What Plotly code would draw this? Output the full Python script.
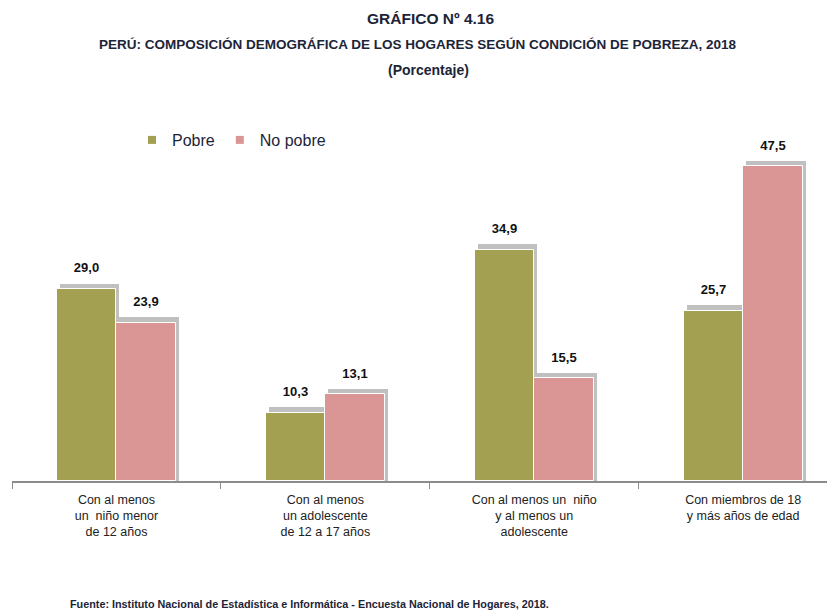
import plotly.graph_objects as go

categories = [
    "Con al menos<br>un  niño menor<br>de 12 años",
    "Con al menos<br>un adolescente<br>de 12 a 17 años",
    "Con al menos un  niño<br>y al menos un<br>adolescente",
    "Con miembros de 18<br>y más años de edad",
]
pobre = [29.0, 10.3, 34.9, 25.7]
no_pobre = [23.9, 13.1, 15.5, 47.5]

series_names = ["Pobre", "No pobre"]
colors = ["#a3a052", "#d99694"]
FONT = "Liberation Sans, Arial, sans-serif"
TXT = "#1c2438"

def fmt(v):
    return f"<b>{v:.1f}</b>".replace(".", ",")

# The page has an 8px body margin: build the figure in reference pixels minus 8.
OFF = 8
FIG_W, FIG_H = 835 - OFF, 616 - OFF
# plot area in reference pixels
PL, PR, PT, PB = 12, 835, 100, 481
PW, PH = PR - PL, PB - PT

def px(x):
    return (x - PL) / PW

def py(y):
    return (PB - y) / PH

UNIT = 208.9  # pixels per category
XMAX = -0.5 + PW / UNIT

fig = go.Figure()
W = 0.285
shadow_up = 0.8
label_up = 1.6
offsets = [-W, 0.0]
for vals, off in zip([pobre, no_pobre], offsets):
    fig.add_trace(go.Bar(
        x=categories, y=[v + shadow_up for v in vals], width=W, offset=off + 0.014,
        marker=dict(color="rgba(140,140,140,0.55)", line=dict(width=0)),
        showlegend=False, hoverinfo="skip",
    ))
for vals, name, col, off in zip([pobre, no_pobre], series_names, colors, offsets):
    fig.add_trace(go.Bar(
        x=categories, y=vals, width=W, offset=off, name=name,
        marker=dict(color=col, line=dict(color="white", width=1)),
        showlegend=False,
    ))
for vals, off in zip([pobre, no_pobre], offsets):
    fig.add_trace(go.Bar(
        x=categories, y=[v + label_up for v in vals], width=W, offset=off,
        marker=dict(color="rgba(0,0,0,0)", line=dict(width=0)),
        text=[fmt(v) for v in vals], textposition="outside",
        textfont=dict(family=FONT, size=13, color="#111111"),
        showlegend=False, hoverinfo="skip", cliponaxis=False,
    ))
# legend entries with small square markers
for name, col in zip(series_names, colors):
    fig.add_trace(go.Scatter(
        x=[None], y=[None], mode="markers", name=name,
        marker=dict(symbol="square", size=8, color=col),
    ))

fig.update_layout(
    width=FIG_W, height=FIG_H,
    barmode="overlay",
    plot_bgcolor="white", paper_bgcolor="white",
    margin=dict(l=PL - OFF, r=0, t=PT - OFF, b=FIG_H - (PB - OFF), autoexpand=False),
    legend=dict(
        orientation="h", x=px(132), y=py(140), xanchor="left", yanchor="middle",
        font=dict(family=FONT, size=16, color=TXT),
        itemwidth=30, traceorder="normal", bgcolor="rgba(0,0,0,0)",
    ),
    xaxis=dict(
        range=[-0.5, XMAX], showline=True, linecolor="#8c8c8c", linewidth=1.5,
        ticks="outside", tickson="boundaries", ticklen=6, tickcolor="#8c8c8c",
        tickfont=dict(family=FONT, size=12.5, color="#222222"),
        ticklabelstandoff=6,
        showgrid=False, fixedrange=True, automargin=False,
    ),
    yaxis=dict(range=[0, 57.5], visible=False, showgrid=False, automargin=False),
    bargap=0,
)

title_lines = [
    ("GRÁFICO Nº 4.16", 430, 18, 15.5),
    ("PERÚ: COMPOSICIÓN DEMOGRÁFICA DE LOS HOGARES SEGÚN CONDICIÓN DE POBREZA, 2018", 418, 45, 13.5),
    ("(Porcentaje)", 429, 70, 14),
]
for txt, cx, cy, sz in title_lines:
    fig.add_annotation(
        text=f"<b>{txt}</b>", xref="paper", yref="paper",
        x=px(cx), y=py(cy), xanchor="center", yanchor="middle",
        showarrow=False, font=dict(family=FONT, size=sz, color=TXT),
    )

fig.add_annotation(
    text="<b>Fuente: Instituto Nacional de Estadística e Informática - Encuesta Nacional de Hogares, 2018.</b>",
    xref="paper", yref="paper", x=px(68), y=py(604),
    xanchor="left", yanchor="middle", showarrow=False,
    font=dict(family=FONT, size=10.8, color=TXT),
)
fig.write_html("out.html")
